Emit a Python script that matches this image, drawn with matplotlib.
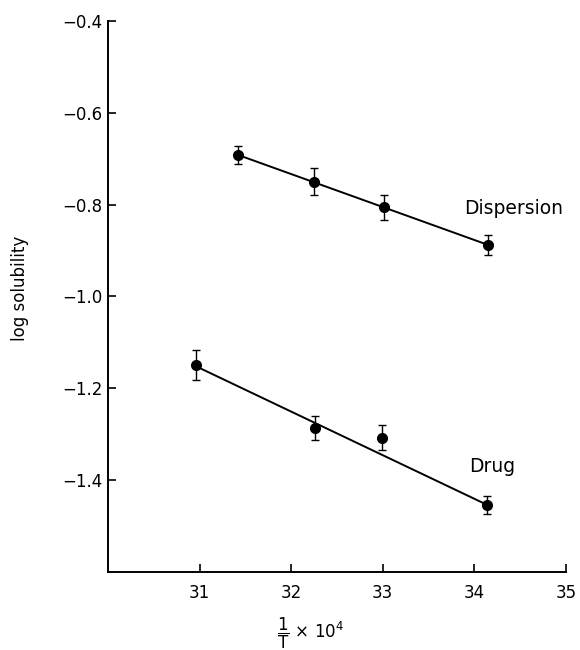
import matplotlib.pyplot as plt
import numpy as np

# dispersion data (1/T x 10^4, log solubility)
disp_x = [31.42, 32.25, 33.01, 34.15]
disp_y = [-0.692, -0.750, -0.806, -0.888]
disp_err = [0.020, 0.030, 0.027, 0.021]
disp_fit_x = [31.42, 34.15]
disp_fit_y = [-0.692, -0.888]

# drug data
drug_x = [30.96, 32.26, 32.99, 34.14]
drug_y = [-1.150, -1.287, -1.308, -1.454]
drug_err = [0.033, 0.026, 0.027, 0.020]
drug_fit_x = [30.96, 34.14]
drug_fit_y = [-1.152, -1.454]

x_ticks = [31, 32, 33, 34, 35]
y_ticks = [-0.4, -0.6, -0.8, -1.0, -1.2, -1.4]

plt.rcParams['font.family'] = ['DejaVu Sans']
fig = plt.figure(figsize=(5.8, 6.5), dpi=100)
ax = fig.add_axes([0.186, 0.12, 0.79, 0.848])

ax.plot(disp_fit_x, disp_fit_y, color='black', lw=1.4)
ax.plot(drug_fit_x, drug_fit_y, color='black', lw=1.4)
ax.errorbar(disp_x, disp_y, yerr=disp_err, fmt='o', color='black',
            ms=7, capsize=3, elinewidth=1, capthick=1)
ax.errorbar(drug_x, drug_y, yerr=drug_err, fmt='o', color='black',
            ms=7, capsize=3, elinewidth=1, capthick=1)

ax.text(33.89, -0.808, 'Dispersion', fontsize=13.5, va='center', ha='left')
ax.text(33.94, -1.370, 'Drug', fontsize=13.5, va='center', ha='left')

ax.set_xlim(30, 35)
ax.set_ylim(-1.6, -0.4)
ax.set_xticks(x_ticks)
ax.set_yticks(y_ticks)
ax.set_yticklabels(['\u2212%.1f' % abs(v) for v in y_ticks])
ax.spines['top'].set_visible(False)
ax.spines['right'].set_visible(False)
ax.spines['left'].set_linewidth(1.4)
ax.spines['bottom'].set_linewidth(1.4)
ax.tick_params(direction='in', length=6, width=1.2, labelsize=12, pad=4)
ax.tick_params(axis='x', pad=9)

fig.text(0.035, 0.557, 'log solubility', rotation=90, fontsize=12,
         ha='center', va='center')
fig.text(0.535, 0.026, r'$\dfrac{1}{\mathrm{T}}$ \u00d7 10$^4$'.replace('\\u00d7', '\u00d7'),
         fontsize=12, ha='center', va='center')

fig.savefig('out.png', dpi=100)
